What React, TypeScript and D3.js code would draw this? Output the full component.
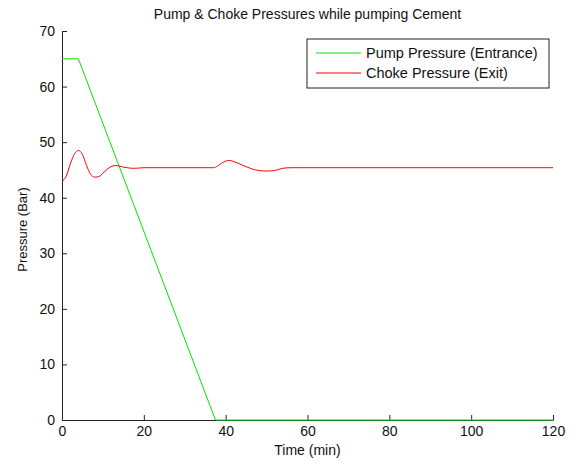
import { useEffect, useRef } from "react";
import * as d3 from "d3";

// pump pressure (entrance) - piecewise linear
const pumpTime = [0, 4, 37.5, 120];
const pumpPressure = [65, 65, 0, 0];

// choke pressure (exit)
const chokeTime = [0, 1, 2, 3, 4, 5, 6, 7, 8, 9, 10, 11, 12, 13, 14, 15, 16, 17, 18, 20, 37, 38, 39, 40, 41, 42, 44, 46, 48, 50, 52, 54, 56, 120];
const chokePressure = [43.0, 43.8, 46.0, 47.8, 48.5, 47.8, 45.8, 44.2, 43.7, 43.8, 44.4, 45.1, 45.6, 45.8, 45.7, 45.5, 45.4, 45.3, 45.3, 45.4, 45.4, 45.7, 46.2, 46.6, 46.7, 46.5, 45.9, 45.3, 44.9, 44.8, 44.9, 45.3, 45.4, 45.4];

const xTicks = [0, 20, 40, 60, 80, 100, 120];
const yTicks = [0, 10, 20, 30, 40, 50, 60, 70];

const seriesNames = ["Pump Pressure (Entrance)", "Choke Pressure (Exit)"];
const seriesColors = ["#00e600", "#ff0000"];

const W = 574;
const H = 464;
const margin = { top: 31, right: 21, bottom: 44, left: 62 };

export default function App() {
  const svgRef = useRef<SVGSVGElement | null>(null);

  useEffect(() => {
    if (!svgRef.current) return;
    const svg = d3.select(svgRef.current);
    svg.selectAll("*").remove();

    const x = d3.scaleLinear().domain([0, 120]).range([margin.left, W - margin.right]);
    const y = d3.scaleLinear().domain([0, 70]).range([H - margin.bottom, margin.top]);

    svg.append("rect").attr("width", W).attr("height", H).attr("fill", "#fff");

    const font = "'Liberation Sans', Arial, sans-serif";

    const xAxis = svg
      .append("g")
      .attr("transform", `translate(0,${H - margin.bottom})`)
      .call(d3.axisBottom(x).tickValues(xTicks).tickSizeInner(-5).tickSizeOuter(0).tickPadding(6));
    const yAxis = svg
      .append("g")
      .attr("transform", `translate(${margin.left},0)`)
      .call(d3.axisLeft(y).tickValues(yTicks).tickSizeInner(-5).tickSizeOuter(0).tickPadding(7));

    [xAxis, yAxis].forEach((a) => {
      a.selectAll("path").attr("stroke", "#222");
      a.selectAll("line").attr("stroke", "#222");
      a.selectAll("text").attr("fill", "#111").style("font-family", font).style("font-size", "14px");
    });

    const pumpData = pumpTime.map((t, i) => [t, pumpPressure[i]] as [number, number]);
    const chokeData = chokeTime.map((t, i) => [t, chokePressure[i]] as [number, number]);

    const lineLinear = d3.line<[number, number]>().x((d) => x(d[0])).y((d) => y(d[1]));
    const lineSmooth = d3
      .line<[number, number]>()
      .x((d) => x(d[0]))
      .y((d) => y(d[1]))
      .curve(d3.curveMonotoneX);

    svg.append("path").datum(pumpData).attr("d", lineLinear).attr("fill", "none").attr("stroke", seriesColors[0]).attr("stroke-width", 1);
    svg.append("path").datum(chokeData).attr("d", lineSmooth).attr("fill", "none").attr("stroke", seriesColors[1]).attr("stroke-width", 1);

    // title & labels
    svg
      .append("text")
      .attr("x", (margin.left + W - margin.right) / 2)
      .attr("y", 19)
      .attr("text-anchor", "middle")
      .style("font-family", font)
      .style("font-size", "14px")
      .attr("fill", "#111")
      .text("Pump & Choke Pressures while pumping Cement");
    svg
      .append("text")
      .attr("x", (margin.left + W - margin.right) / 2)
      .attr("y", 455)
      .attr("text-anchor", "middle")
      .style("font-family", font)
      .style("font-size", "14px")
      .attr("fill", "#111")
      .text("Time (min)");
    svg
      .append("text")
      .attr("transform", `translate(27,${(margin.top + H - margin.bottom) / 2 + 4}) rotate(-90)`)
      .attr("text-anchor", "middle")
      .style("font-family", font)
      .style("font-size", "13px")
      .attr("fill", "#111")
      .text("Pressure (Bar)");

    // legend
    const lg = svg.append("g").attr("transform", "translate(307,39)");
    lg.append("rect").attr("width", 242).attr("height", 49).attr("fill", "#fff").attr("stroke", "#222").attr("stroke-width", 1);
    seriesNames.forEach((name, i) => {
      const cy = 14 + i * 20;
      lg.append("line").attr("x1", 9).attr("x2", 54).attr("y1", cy).attr("y2", cy).attr("stroke", seriesColors[i]);
      lg.append("text")
        .attr("x", 59)
        .attr("y", cy + 5)
        .style("font-family", font)
        .style("font-size", "14.5px")
        .attr("fill", "#111")
        .text(name);
    });
  }, []);

  return <svg ref={svgRef} width={W} height={H} style={{ position: "absolute", left: 0, top: 0 }} />;
}
